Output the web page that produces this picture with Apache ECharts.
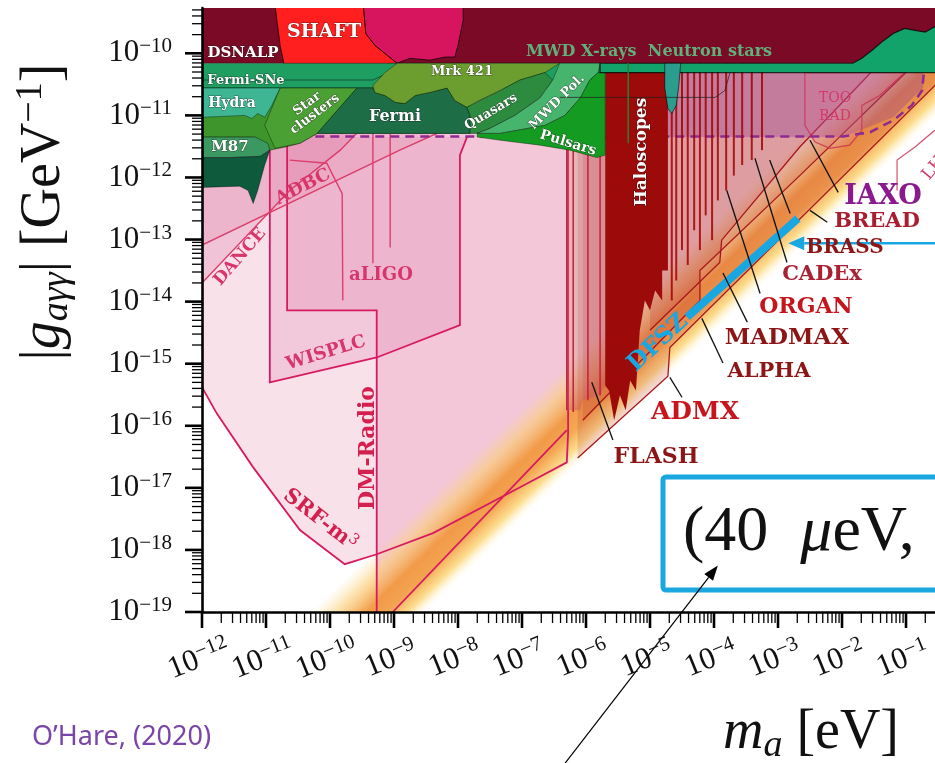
<!DOCTYPE html>
<html>
<head>
<meta charset="utf-8">
<title>Axion-photon coupling limits</title>
<script src="https://cdn.jsdelivr.net/npm/echarts@6/dist/echarts.min.js"></script>
<style>
  html, body { margin: 0; padding: 0; background: #fff; }
  #chart { width: 935px; height: 763px; }
</style>
</head>
<body>
<div id="chart"></div>
<script>
// every point below is [log10(m_a / eV), log10(|g_agg| / GeV^-1)]
const xDecades = [-12, -11, -10, -9, -8, -7, -6, -5, -4, -3, -2, -1];
const yDecades = [-19, -18, -17, -16, -15, -14, -13, -12, -11, -10];
const minorMultipliers = [2, 3, 4, 5, 6, 7, 8, 9];
// the picture is cropped on the right and at the top
const X_MIN = -12, X_MAX = -0.547, Y_MIN = -19, Y_MAX = -9.27;

// low mass pink regions
const srfCurve = [[-12, -15.38], [-11.77, -15.80], [-11.20, -16.67], [-10.47, -17.68], [-9.77, -18.23], [-9.27, -18.07],
  [-8.39, -17.73], [-7.03, -16.99], [-6.30, -16.59], [-6.28, -16.12], [-6.28, -10.16]];
const dmRadioFill = [[-10.67, -10.16], [-10.67, -14.14], [-9.27, -14.14], [-9.27, -19], [-9.02, -19], [-6.30, -16.07], [-6.28, -10.16]];
const dmRadioLine = [[-10.67, -10.16], [-10.67, -14.14], [-9.27, -14.14], [-9.27, -19.2]];
const dmRadioDiag = [[-9.02, -19], [-6.30, -16.07]];
const wisplc = [[-10.94, -11.35], [-10.94, -15.30], [-9.27, -14.90], [-7.97, -14.38], [-7.97, -11.64], [-7.86, -11.35]];
const danceLine = [[-12, -13.70], [-10.63, -12.21], [-9.84, -11.56], [-9.5, -11.2]];
const adbcLine = [[-12, -13.09], [-8.91, -11.56], [-7.81, -11.05]];
const aligoCurve = [[-10.63, -11.72], [-10.05, -11.77], [-9.81, -12.26], [-9.80, -13.98]];
const aligoLines = [[[-9.33, -11.3], [-9.33, -13.38]], [[-9.06, -11.3], [-9.06, -13.13]]];

// QCD axion band edges
const bandUpper = [[-10.8, -19.5], [0.2, -8.5]];
const bandLower = [[-8.8, -19.3], [0.2, -10.3]];

// haloscopes
const haloColumn = [[-6.30, -10.16], [-6.30, -15.75], [-6.09, -15.75], [-6.05, -15.59], [-5.78, -15.51], [-5.70, -15.35], [-5.70, -10.16]];
const haloColumnLines = [[-6.30, -15.75], [-6.20, -15.78], [-5.97, -15.59], [-5.78, -15.51]];
const haloBlock = [[-5.70, -10.16], [-4.72, -10.16], [-4.72, -13.50], [-4.81, -13.50], [-4.81, -13.98], [-4.92, -13.82], [-5.00, -14.14],
  [-5.08, -13.98], [-5.16, -14.46], [-5.22, -15.43], [-5.31, -15.27], [-5.38, -15.75], [-5.47, -15.51], [-5.56, -15.91],
  [-5.64, -15.43], [-5.70, -15.35]];
const haloSpikes = [[-4.66, -13.98], [-4.59, -13.66], [-4.50, -13.17], [-4.41, -13.41], [-4.31, -12.85], [-4.22, -13.17],
  [-4.13, -12.61], [-4.03, -13.01], [-3.94, -12.37], [-3.81, -12.21], [-3.69, -11.97], [-3.56, -11.80], [-3.41, -11.72], [-3.25, -11.56]];
const projection1 = [[-6.13, -16.52], [-4.72, -15.20], [-4.69, -14.74], [0, -9.96]];
const projection2 = [[-6.05, -15.91], [-4.22, -13.98], [-4.22, -13.50], [-2.66, -11.97], [0, -9.31]];
const projection3 = [[-5.00, -14.46], [-3.91, -13.37], [-3.88, -13.01], [-2.66, -11.51], [-1.41, -10.16]];
const iaxoRegion = [[-4.72, -10.31], [-0.73, -10.31], [-0.73, -10.55], [-1.20, -11.03], [-1.98, -11.35], [-4.72, -11.35]];
const iaxoLine = [[-10.23, -11.34], [-1.98, -11.34], [-1.56, -11.27], [-1.20, -11.08], [-0.91, -10.84], [-0.75, -10.60], [-0.72, -10.31]];
const tooRad = [[-2.58, -10.31], [-2.58, -11.16], [-2.42, -11.43], [-2.19, -11.53], [-1.88, -11.48], [-1.69, -11.24], [-1.69, -10.84], [-1.41, -10.68], [-1.02, -10.31]];
const lhLine = [[-1.14, -12.21], [-1.14, -11.72], [-0.86, -11.51], [-0.55, -11.24]];

// astrophysical bounds at the top
const maroonTop = [[-12, -9.2], [0, -9.2], [0, -10.16], [-12, -10.16]];
const shaftRed = [[-10.86, -9.2], [-9.48, -9.2], [-9.44, -9.68], [-9.30, -9.87], [-8.95, -10.16], [-10.00, -10.27], [-10.63, -10.31],
  [-10.70, -10.34], [-10.73, -10.11], [-10.78, -9.87], [-10.80, -9.70], [-10.83, -9.47]];
const shaftMagenta = [[-9.48, -9.2], [-7.92, -9.2], [-7.92, -9.47], [-8.00, -9.87], [-8.05, -10.06], [-8.20, -10.06], [-8.44, -10.11],
  [-8.75, -10.08], [-8.95, -10.16], [-9.30, -9.87], [-9.44, -9.68]];
const fermiSNe = [[-12, -10.16], [-5.78, -10.16], [-5.78, -10.56], [-12, -10.56]];
const fermiSNeLine = [[-12, -10.43], [-9.33, -10.43], [-8.95, -10.25]];
const greenBase = [[-12, -10.56], [-7.81, -10.56], [-7.81, -11.29], [-10.20, -11.29], [-10.47, -11.45], [-10.70, -11.51],
  [-10.94, -11.56], [-11.17, -11.35], [-12, -11.35]];
const starClusters = [[-10.78, -10.56], [-9.58, -10.56], [-10.20, -11.29], [-10.47, -11.45], [-10.86, -11.53], [-11.02, -11.16]];
const hydra = [[-12, -10.56], [-10.78, -10.56], [-10.91, -10.84], [-11.02, -11.03], [-11.13, -10.97], [-11.22, -11.05], [-11.33, -11.00], [-12, -11.03]];
const m87 = [[-12, -11.35], [-11.17, -11.35], [-10.97, -11.45], [-10.94, -11.56], [-11.09, -11.66], [-11.56, -11.68], [-12, -11.68]];
const m87Dark = [[-12, -11.68], [-11.56, -11.68], [-11.09, -11.66], [-10.94, -11.56], [-11.02, -11.80], [-11.13, -12.21],
  [-11.20, -12.42], [-11.28, -12.21], [-11.41, -12.14], [-12, -12.16]];
const fermi = [[-9.58, -10.56], [-9.33, -10.56], [-9.30, -10.63], [-9.14, -10.68], [-8.98, -10.79], [-8.83, -10.81], [-8.67, -10.68],
  [-8.44, -10.63], [-8.17, -10.56], [-8.05, -10.76], [-7.86, -10.87], [-7.81, -11.00], [-7.81, -11.29], [-10.20, -11.29]];
const mrk421 = [[-8.95, -10.16], [-6.41, -10.16], [-6.64, -10.31], [-7.03, -10.43], [-7.34, -10.60], [-7.66, -10.76], [-7.86, -10.87],
  [-8.05, -10.76], [-8.17, -10.56], [-8.44, -10.63], [-8.67, -10.68], [-8.83, -10.81], [-8.98, -10.79], [-9.14, -10.68],
  [-9.30, -10.63], [-9.33, -10.52], [-9.14, -10.31]];
const quasars = [[-7.86, -10.87], [-7.66, -10.76], [-7.34, -10.60], [-7.03, -10.43], [-6.64, -10.31], [-6.52, -10.43], [-6.72, -10.72],
  [-7.11, -11.00], [-7.50, -11.21], [-7.70, -11.29], [-7.81, -11.29], [-7.81, -11.00]];
const mwdPol = [[-6.52, -10.43], [-6.41, -10.16], [-5.78, -10.16], [-5.81, -10.31], [-5.94, -10.43], [-6.09, -10.72], [-6.33, -11.00],
  [-6.64, -11.16], [-7.34, -11.29], [-7.70, -11.29], [-7.50, -11.21], [-7.11, -11.00], [-6.72, -10.72]];
const pulsars = [[-7.70, -11.29], [-7.34, -11.29], [-6.64, -11.16], [-6.33, -11.00], [-6.09, -10.72], [-5.94, -10.43], [-5.81, -10.31],
  [-5.70, -10.31], [-5.70, -11.64], [-5.83, -11.68], [-6.25, -11.56], [-6.72, -11.48], [-7.34, -11.40], [-7.70, -11.35]];
const neutronStars = [[-5.78, -10.16], [-1.83, -10.16], [-1.69, -10.08], [-1.53, -9.95], [-1.38, -9.82], [-1.20, -9.68], [-1.02, -9.60],
  [-0.86, -9.63], [-0.70, -9.66], [-0.55, -9.57], [0, -9.5], [0, -10.31], [-5.78, -10.31]];
const tealSpike = [[-4.77, -10.16], [-4.52, -10.16], [-4.55, -10.52], [-4.59, -10.84], [-4.66, -10.97], [-4.72, -10.89], [-4.77, -10.56]];
const xrayLine = [[-6.41, -10.71], [-3.98, -10.71], [-3.83, -10.60], [-3.75, -10.31]];
const greenTick = [[-5.34, -10.16], [-5.34, -11.45]];

// annotations
const dfszBar = [[-4.42, -14.25], [-2.69, -12.66]];
const leaderLines = [
  [[-2.50, -11.40], [-2.06, -12.24]], [[-2.50, -12.53], [-2.23, -12.72]], [[-3.13, -11.72], [-2.81, -12.58]],
  [[-3.36, -11.69], [-2.86, -13.37]], [[-3.80, -12.21], [-3.28, -13.87]], [[-3.86, -13.54], [-3.48, -14.33]],
  [[-4.19, -14.27], [-3.86, -14.99]], [[-4.69, -15.22], [-4.50, -15.54]], [[-5.91, -15.30], [-5.58, -16.23]]];
const cyanArrow = [[0, -13.06], [-2.84, -13.06]];
const blackArrow = [[-6.33, -21.44], [-3.94, -18.25]];

function shapeSeries(build, clip) {
  return {
    type: 'custom', coordinateSystem: 'cartesian2d', clip: clip !== false, silent: true, animation: false,
    data: [[X_MIN, Y_MIN]],
    renderItem: function (params, api) { return build(api); }
  };
}
function fillArea(pts, fill, stroke, lw) {
  return shapeSeries(function (api) {
    return { type: 'polygon', shape: { points: pts.map(p => api.coord(p)) },
      style: { fill: fill, stroke: stroke || null, lineWidth: lw || 0 } };
  });
}
function strokeLine(pts, color, width, dash, clip) {
  return shapeSeries(function (api) {
    return { type: 'polyline', shape: { points: pts.map(p => api.coord(p)) },
      style: { fill: null, stroke: color, lineWidth: width, lineDash: dash || null } };
  }, clip);
}
function arrowSeries(pts, color, width, len, half) {
  return shapeSeries(function (api) {
    const a = api.coord(pts[0]), b = api.coord(pts[1]);
    const dx = b[0] - a[0], dy = b[1] - a[1], L = Math.hypot(dx, dy), ux = dx / L, uy = dy / L;
    const bx = b[0] - ux * len, by = b[1] - uy * len;
    return { type: 'group', children: [
      { type: 'line', shape: { x1: a[0], y1: a[1], x2: bx, y2: by }, style: { stroke: color, lineWidth: width } },
      { type: 'polygon', shape: { points: [b, [bx - uy * half, by + ux * half], [bx + uy * half, by - ux * half]] }, style: { fill: color } }
    ] };
  }, false);
}
function bandSeries() {
  return shapeSeries(function (api) {
    const u0 = api.coord(bandUpper[0]), u1 = api.coord(bandUpper[1]);
    const l0 = api.coord(bandLower[0]), l1 = api.coord(bandLower[1]);
    let dx = u1[0] - u0[0], dy = u1[1] - u0[1];
    const len = Math.hypot(dx, dy); dx /= len; dy /= len;
    const nx = -dy, ny = dx;
    const w = (l0[0] - u0[0]) * nx + (l0[1] - u0[1]) * ny;
    const grad = new echarts.graphic.LinearGradient(u0[0], u0[1], u0[0] + nx * w, u0[1] + ny * w, [
      { offset: 0, color: 'rgba(252,220,150,0)' },
      { offset: 0.22, color: 'rgba(250,205,115,0.6)' },
      { offset: 0.48, color: 'rgba(241,150,60,0.92)' },
      { offset: 0.66, color: 'rgba(243,160,68,0.92)' },
      { offset: 0.84, color: 'rgba(252,212,115,0.8)' },
      { offset: 1, color: 'rgba(255,248,215,0)' }
    ], true);
    return { type: 'polygon', shape: { points: [u0, u1, l1, l0] }, style: { fill: grad } };
  });
}

function powerText(n) {
  return '{b|10}{s|\u2212' + Math.abs(n) + '}';
}
function powerLabel(v) {
  const n = Math.round(v);
  if (Math.abs(v - n) > 1e-6 || n === 0) return '';
  return powerText(n);
}
const powerRich = {
  b: { fontFamily: 'Liberation Serif', fontSize: 31, lineHeight: 34, color: '#111' },
  s: { fontFamily: 'Liberation Serif', fontSize: 21, lineHeight: 23, verticalAlign: 'top', color: '#111' }
};
const powerRichFill = {
  b: { fontFamily: 'Liberation Serif', fontSize: 31, lineHeight: 34, fill: '#111' },
  s: { fontFamily: 'Liberation Serif', fontSize: 21, lineHeight: 23, verticalAlign: 'top', fill: '#111' }
};

// log ticks on both axes and the tilted mass labels
function tickSeries() {
  return shapeSeries(function (api) {
    const kids = [];
    const seg = (x1, y1, x2, y2, w) => kids.push({ type: 'line', shape: { x1: x1, y1: y1, x2: x2, y2: y2 }, style: { stroke: '#000', lineWidth: w } });
    xDecades.forEach(function (d) {
      const p = api.coord([d, Y_MIN]);
      seg(p[0], p[1], p[0], p[1] + 16, 2.6);
      minorMultipliers.forEach(function (k) {
        const q = api.coord([d + Math.log10(k), Y_MIN]);
        seg(q[0], q[1], q[0], q[1] + 11, 1.3);
      });
      kids.push({ type: 'text', x: p[0] - 3, y: p[1] + 47, rotation: 22 * Math.PI / 180,
        style: { text: powerText(d), rich: powerRichFill, align: 'center', verticalAlign: 'middle' } });
    });
    yDecades.forEach(function (d) {
      const p = api.coord([X_MIN, d]);
      seg(p[0], p[1], p[0] - 17, p[1], 2.6);
      minorMultipliers.forEach(function (k) {
        const v = d + Math.log10(k);
        if (v > Y_MAX) return;
        const q = api.coord([X_MIN, v]);
        seg(q[0], q[1], q[0] - 10, q[1], 1.3);
      });
    });
    return { type: 'group', children: kids };
  }, false);
}

const pinkLine = '#d81b60', pinkLine2 = '#dc3d6b', haloLine = '#a8161c';
const greenEdge = 'rgba(0,0,0,0.45)';

const series = [
  fillArea(srfCurve.concat([[-12, -10.16]]), '#f9e1ea'),
  fillArea(dmRadioFill, '#f3c6d8'),
  fillArea(wisplc, 'rgba(226,140,178,0.28)'),
  fillArea(danceLine.concat([[-12, -11.2]]), 'rgba(222,120,160,0.28)'),
  fillArea(adbcLine.concat([[-7.81, -10.9], [-12, -10.9]]), 'rgba(222,120,160,0.18)'),
  bandSeries(),
  strokeLine(srfCurve, pinkLine, 1.8),
  strokeLine(dmRadioLine, pinkLine, 1.8),
  strokeLine(dmRadioDiag, pinkLine, 1.8),
  strokeLine(wisplc, pinkLine, 1.8),
  strokeLine(danceLine, pinkLine2, 1.4),
  strokeLine(adbcLine, pinkLine2, 1.4),
  strokeLine(aligoCurve, pinkLine2, 1.4)
];
aligoLines.forEach(l => series.push(strokeLine(l, pinkLine2, 1.4)));
[projection1, projection2, projection3].forEach(function (pr) {
  const top = pr[pr.length - 1][0];
  series.push(fillArea(pr.concat([[top, -9.2], [pr[0][0], -9.2]]), 'rgba(175,30,35,0.17)'));
  series.push(strokeLine(pr, haloLine, 1.3));
});
series.push(fillArea(haloColumn, 'rgba(200,90,100,0.45)'));
haloColumnLines.forEach(p => series.push(strokeLine([[p[0], -10.16], p], '#c41e3a', 1.5)));
series.push(fillArea(iaxoRegion, 'rgba(150,60,150,0.35)'));
series.push(fillArea(tooRad, 'rgba(225,110,145,0.18)', 'rgba(205,50,85,0.85)', 1.2));
series.push(strokeLine(lhLine, 'rgba(205,50,85,0.85)', 1.2));
series.push(strokeLine(iaxoLine, '#8e2a92', 2.6, [9, 6]));
series.push(fillArea(haloBlock, '#9c0a0a'));
haloSpikes.forEach(p => series.push(strokeLine([[p[0], -10.16], p], 'rgba(165,0,0,0.85)', 2)));
series.push(
  fillArea(maroonTop, '#7a0a26'),
  fillArea(shaftRed, '#ff1f1f', 'rgba(0,0,0,0.7)', 1),
  fillArea(shaftMagenta, '#d6155e', 'rgba(0,0,0,0.7)', 1),
  fillArea(fermiSNe, '#1f9e62', greenEdge, 0.8),
  strokeLine(fermiSNeLine, greenEdge, 1),
  fillArea(greenBase, '#3e952c', greenEdge, 0.8),
  fillArea(starClusters, '#4aa032', greenEdge, 0.8),
  fillArea(hydra, '#3fb693', greenEdge, 0.8),
  fillArea(m87, '#3a9860', greenEdge, 0.8),
  fillArea(m87Dark, '#0d5a3c', greenEdge, 0.8),
  fillArea(fermi, '#1d6e47', greenEdge, 0.8),
  fillArea(mrk421, '#6b9e2e', greenEdge, 0.8),
  fillArea(quasars, '#2d8b3f', greenEdge, 0.8),
  fillArea(mwdPol, '#46b46c', greenEdge, 0.8),
  fillArea(pulsars, '#149c22', greenEdge, 0.8),
  fillArea(neutronStars, '#12a36a', 'rgba(0,0,0,0.75)', 1.2),
  fillArea(tealSpike, '#2b9d8f', 'rgba(0,0,0,0.6)', 1),
  strokeLine(xrayLine, 'rgba(30,30,30,0.7)', 1),
  strokeLine(greenTick, '#2e7d32', 1.5),
  strokeLine(dfszBar, '#19a7e1', 8)
);
leaderLines.forEach(l => series.push(strokeLine(l, '#111', 1.3)));
series.push(arrowSeries(cyanArrow, '#19a7e1', 2.5, 16, 7));
series.push(arrowSeries(blackArrow, '#000', 1.2, 15, 5.5));
series.push(tickSeries());

const W = '#ffffff', pinkText = '#d8366a', deepPink = '#d4204e';
const textLabels = [
  { text: 'DSNALP', x: 243, y: 53, size: 15, color: W, outline: true },
  { text: 'SHAFT', x: 324, y: 32, size: 19, color: W, outline: true },
  { text: 'MWD X-rays  Neutron stars', x: 649, y: 52, size: 16, color: '#5fb07a' },
  { text: 'Fermi-SNe', x: 246, y: 81, size: 13, color: W, outline: true },
  { text: 'Mrk 421', x: 462, y: 72, size: 13, color: W, outline: true },
  { text: 'Hydra', x: 232, y: 103, size: 14, color: W, outline: true },
  { text: 'Star\nclusters', x: 311, y: 109, size: 13, rot: 37, color: W, outline: true },
  { text: 'Fermi', x: 395, y: 117, size: 16, color: W, outline: true },
  { text: 'Quasars', x: 491, y: 112, size: 13, rot: 31, color: W, outline: true },
  { text: 'MWD Pol.', x: 557, y: 102, size: 13, rot: 45, color: W, outline: true },
  { text: 'Pulsars', x: 568, y: 143, size: 14, rot: -17, color: W, outline: true },
  { text: 'M87', x: 230, y: 147, size: 15, color: W, outline: true },
  { text: 'ADBC', x: 303, y: 187, size: 18, rot: 27, color: pinkText },
  { text: 'DANCE', x: 240, y: 257, size: 17, rot: 49, color: pinkText },
  { text: 'aLIGO', x: 381, y: 275, size: 18, color: pinkText },
  { text: 'WISPLC', x: 326, y: 353, size: 18, rot: 17, color: pinkText },
  { text: 'DM-Radio', x: 368, y: 448, size: 22, rot: 90, color: deepPink },
  { text: '{a|SRF-m}{b|3}', x: 320, y: 520, size: 21, rot: -38, color: deepPink },
  { text: 'Haloscopes', x: 642, y: 152, size: 17, rot: 90, color: W, outline: true },
  { text: 'TOO', x: 835, y: 98, size: 14, color: '#d33a6a', weight: 'normal' },
  { text: 'RAD', x: 835, y: 116, size: 14, color: '#d33a6a', weight: 'normal' },
  { text: 'IAXO', x: 883, y: 197, size: 27, color: '#8a1a8e' },
  { text: 'BREAD', x: 877, y: 222, size: 21, color: '#a91d30' },
  { text: 'BRASS', x: 845, y: 248, size: 20, color: '#8c1515' },
  { text: 'CADEx', x: 822, y: 275, size: 21, color: '#a82233' },
  { text: 'ORGAN', x: 806, y: 307, size: 22, color: '#c4161c' },
  { text: 'MADMAX', x: 787, y: 338, size: 23, color: '#8c1515' },
  { text: 'ALPHA', x: 769, y: 372, size: 21, color: '#8c1515' },
  { text: 'ADMX', x: 695, y: 412, size: 25, color: '#c8141c' },
  { text: 'FLASH', x: 656, y: 457, size: 22, color: '#8c1515' },
  { text: 'DFSZ', x: 658, y: 343, size: 24, rot: 43, color: '#19a7e1' },
  { text: 'LH', x: 934, y: 168, size: 17, rot: 50, color: '#d33a6a', weight: 'normal' }
];

const graphic = textLabels.map(l => ({
  type: 'text', x: l.x, y: l.y, rotation: (l.rot || 0) * Math.PI / 180, z: 100, silent: true,
  style: {
    text: l.text, fill: l.color, fontFamily: 'DejaVu Serif', fontWeight: l.weight || 'bold', fontSize: l.size,
    align: 'center', verticalAlign: 'middle',
    stroke: l.outline ? 'rgba(25,25,25,0.55)' : null, lineWidth: l.outline ? 1 : 0,
    rich: {
      a: { fontFamily: 'DejaVu Serif', fontWeight: 'bold', fontSize: l.size, fill: l.color, lineHeight: l.size + 4 },
      b: { fontFamily: 'DejaVu Serif', fontSize: Math.round(l.size * 0.7), fill: l.color, verticalAlign: 'top', lineHeight: l.size }
    }
  }
}));

const titleRich = {
  t: { fontFamily: 'Liberation Serif', fontSize: 56, lineHeight: 64, fill: '#111' },
  i: { fontFamily: 'Liberation Serif', fontStyle: 'italic', fontSize: 56, lineHeight: 64, fill: '#111' },
  sub: { fontFamily: 'Liberation Serif', fontStyle: 'italic', fontSize: 38, lineHeight: 40, verticalAlign: 'bottom', fill: '#111' },
  sup: { fontFamily: 'Liberation Serif', fontSize: 38, lineHeight: 40, verticalAlign: 'top', fill: '#111' }
};
graphic.push(
  { type: 'text', x: 44, y: 212, rotation: Math.PI / 2, z: 100, silent: true,
    style: { text: '{t||}{i|g}{sub|a\u03b3\u03b3}{t||}{t| [GeV}{sup|\u22121}{t|]}', rich: titleRich, align: 'center', verticalAlign: 'middle' } },
  { type: 'text', x: 811, y: 733, z: 100, silent: true,
    style: { text: '{i|m}{sub|a}{t| [eV]}', rich: titleRich, align: 'center', verticalAlign: 'middle' } },
  { type: 'text', x: 32, y: 737, z: 100, silent: true,
    style: { text: 'O\u2019Hare, (2020)', fill: '#7a45a8', fontFamily: 'Noto Sans', fontSize: 27, align: 'left', verticalAlign: 'middle' } },
  { type: 'rect', z: 1, silent: true, shape: { x: 663, y: 477, width: 330, height: 113, r: 3 },
    style: { fill: '#fff', stroke: '#1aa7e0', lineWidth: 5 } },
  { type: 'text', x: 683, y: 533, z: 100, silent: true,
    style: { text: '(40  {m|\u03bc}eV,', fill: '#111', fontFamily: 'Liberation Serif', fontSize: 64, align: 'left', verticalAlign: 'middle',
      rich: { m: { fontFamily: 'Liberation Serif', fontStyle: 'italic', fontSize: 64, fill: '#111' } } } }
);

const chart = echarts.init(document.getElementById('chart'), null, { renderer: 'canvas' });
chart.setOption({
  animation: false,
  backgroundColor: '#ffffff',
  grid: { left: 202, top: 8, right: 0, bottom: 151, outerBoundsMode: 'none' },
  xAxis: {
    type: 'value', min: X_MIN, max: X_MAX, interval: 1, z: 10,
    axisLine: { onZero: false, lineStyle: { color: '#000', width: 2.6 } },
    axisTick: { show: false }, splitLine: { show: false },
    axisLabel: { show: false }
  },
  yAxis: {
    type: 'value', min: Y_MIN, max: Y_MAX, interval: 1, z: 10,
    axisLine: { onZero: false, lineStyle: { color: '#000', width: 2.6 } },
    axisTick: { show: false }, splitLine: { show: false },
    axisLabel: { margin: 30, showMinLabel: true, formatter: powerLabel, rich: powerRich }
  },
  series: series,
  graphic: graphic
});
</script>
</body>
</html>
